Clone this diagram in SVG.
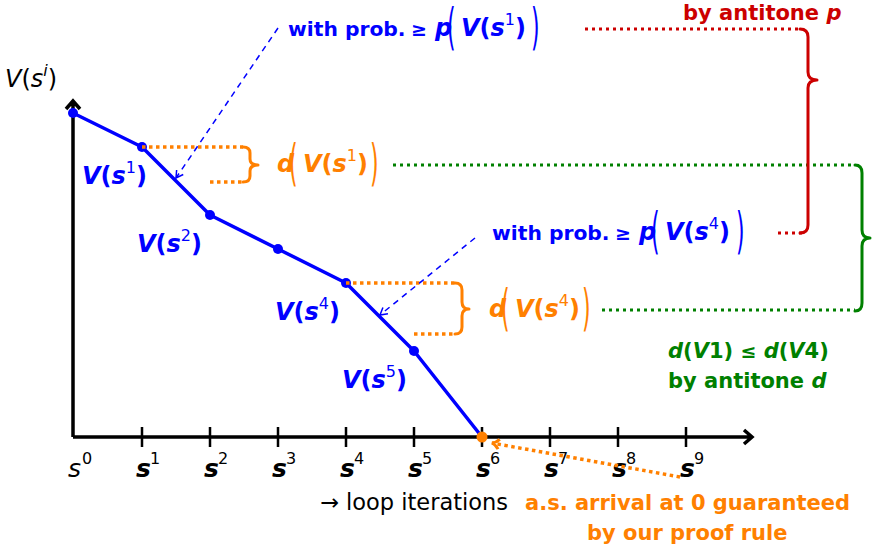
<svg xmlns="http://www.w3.org/2000/svg" width="872" height="549" viewBox="0 0 872 549">
<defs>
<style>
.b{font-family:"DejaVu Sans",sans-serif;font-weight:bold;font-size:21px}
.bw{font-family:"DejaVu Sans",sans-serif;font-weight:bold;font-size:20.3px}
.ge{font-family:"DejaVu Sans",sans-serif;font-weight:bold;font-size:19px}
.bi{font-family:"DejaVu Sans",sans-serif;font-weight:bold;font-style:italic;font-size:24px}
.r{font-family:"DejaVu Sans",sans-serif;font-size:22.5px}
.ri{font-family:"DejaVu Sans",sans-serif;font-style:italic;font-size:24px}
.ts{font-family:"DejaVu Sans",sans-serif;font-weight:bold;font-style:italic;font-size:25px}
.tsr{font-family:"DejaVu Sans",sans-serif;font-style:italic;font-size:25px}
.sup{font-size:16px;font-style:normal;font-weight:normal}
.up{font-style:normal}
.it{font-style:italic}
.bp{font-family:"DejaVu Sans",sans-serif;font-size:22px;font-weight:normal;font-style:normal}
.blue{fill:#0000ff}.orange{fill:#ff8000}.green{fill:#008000}.red{fill:#cc0000}.black{fill:#000}
.axis{stroke:#000;stroke-width:3.5;fill:none}
.tick{stroke:#000;stroke-width:2.5}
.od{stroke:#ff8000;stroke-width:3.5;stroke-dasharray:3.5 3.5;fill:none}
.gd{stroke:#008000;stroke-width:3;stroke-dasharray:3 4;fill:none}
.rd{stroke:#cc0000;stroke-width:3;stroke-dasharray:3 4;fill:none}
.bd{stroke:#0000ff;stroke-width:1.5;stroke-dasharray:6 5;fill:none}
.brace{fill:none;stroke-width:3;stroke-linejoin:round;stroke-linecap:round}
</style>
<marker id="ab" viewBox="0 0 10 10" refX="9" refY="5" markerWidth="10" markerHeight="10" markerUnits="userSpaceOnUse" orient="auto">
<path d="M2,1 L9,5 L2,9" fill="none" stroke="#0000ff" stroke-width="1.5"/>
</marker>
<marker id="ao" viewBox="0 0 12 12" refX="10" refY="6" markerWidth="12" markerHeight="12" markerUnits="userSpaceOnUse" orient="auto">
<path d="M3,1 Q6,5 10,6 Q6,7 3,11" fill="none" stroke="#ff8000" stroke-width="3"/>
</marker>
</defs>

<g id="axes">
<path class="axis" d="M73,437 L73,101 M66,109 L73,101 L80,109"/>
<path class="axis" d="M73,437 L752,437 M744,430 L752,437 L744,444"/>
<path class="tick" d="M142,427V447M210,427V447M278,427V447M346,427V447M414,427V447M482,427V447M550,427V447M618,427V447M686,427V447"/>
<text x="5" y="87" class="ri black">V<tspan class="up">(</tspan>s<tspan dy="-11" font-size="16">i</tspan><tspan dy="11" class="up">)</tspan></text>
</g>

<g id="ticklabels" class="black">
<text x="68" y="477" class="tsr">s<tspan class="sup" dy="-13" x="82">0</tspan></text>
<text x="136" y="477" class="ts">s<tspan class="sup" dy="-13" x="150">1</tspan></text>
<text x="204" y="477" class="ts">s<tspan class="sup" dy="-13" x="218">2</tspan></text>
<text x="272" y="477" class="ts">s<tspan class="sup" dy="-13" x="286">3</tspan></text>
<text x="340" y="477" class="ts">s<tspan class="sup" dy="-13" x="354">4</tspan></text>
<text x="408" y="477" class="ts">s<tspan class="sup" dy="-13" x="422">5</tspan></text>
<text x="476" y="477" class="ts">s<tspan class="sup" dy="-13" x="490">6</tspan></text>
<text x="544" y="477" class="ts">s<tspan class="sup" dy="-13" x="558">7</tspan></text>
<text x="612" y="477" class="ts">s<tspan class="sup" dy="-13" x="626">8</tspan></text>
<text x="680" y="477" class="ts">s<tspan class="sup" dy="-13" x="694">9</tspan></text>
<text x="320" y="510" class="r">→ loop iterations</text>
</g>

<g id="curve">
<polyline points="73,113 142,147 210,215 278,249 346,283 414,351 482,437" fill="none" stroke="#0000ff" stroke-width="3.5" stroke-linejoin="round"/>
<g fill="#0000ff">
<circle cx="73" cy="113" r="5"/><circle cx="142" cy="147" r="5"/><circle cx="210" cy="215" r="5"/>
<circle cx="278" cy="249" r="5"/><circle cx="346" cy="283" r="5"/><circle cx="414" cy="351" r="5"/>
</g>
<circle cx="482" cy="437" r="5.5" fill="#ff8000"/>
</g>

<g id="vlabels" class="blue">
<text x="82" y="184" class="bi">V<tspan class="up">(</tspan>s<tspan class="sup" dy="-11">1</tspan><tspan dy="11" class="up">)</tspan></text>
<text x="137" y="252" class="bi">V<tspan class="up">(</tspan>s<tspan class="sup" dy="-11">2</tspan><tspan dy="11" class="up">)</tspan></text>
<text x="275" y="320" class="bi">V<tspan class="up">(</tspan>s<tspan class="sup" dy="-11">4</tspan><tspan dy="11" class="up">)</tspan></text>
<text x="342" y="388" class="bi">V<tspan class="up">(</tspan>s<tspan class="sup" dy="-11">5</tspan><tspan dy="11" class="up">)</tspan></text>
</g>

<g id="connectors">
<path class="od" d="M142,147 H243 M210,182 H243"/>
<path class="od" d="M346,283 H455 M414,334 H455"/>
<path class="bd" d="M278,28 L176,178" marker-end="url(#ab)"/>
<path class="bd" d="M475,238 L380,315" marker-end="url(#ab)"/>
<path class="rd" d="M585,29 H800 M778,233 H803"/>
<path class="gd" d="M393,165 H855 M602,310 H855"/>
<path class="od" d="M680,477 L492,443" marker-end="url(#ao)"/>
<path class="brace" stroke="#ff8000" d="M243,147 Q250,147 250,153 L250,159 Q250,165 258,165 Q250,165 250,171 L250,176 Q250,182 243,182"/>
<path class="brace" stroke="#ff8000" d="M455,283 Q462,283 462,290 L462,302 Q462,309 469,309 Q462,309 462,316 L462,327 Q462,334 455,334"/>
<path class="brace" stroke="#cc0000" d="M800,29 Q808,29 808,37 L808,72 Q808,80 817,80 Q808,80 808,88 L808,225 Q808,233 800,233"/>
<path class="brace" stroke="#008000" d="M855,165 Q862,165 862,173 L862,230 Q862,238 870,238 Q862,238 862,246 L862,303 Q862,311 855,311"/>
</g>

<g id="prob1" class="blue">
<text x="288" y="36" class="bw">with prob.</text>
<text x="411" y="36" class="ge">≥</text>
<text x="435" y="36" class="bi">p</text>
<text class="bp" transform="translate(447,44) scale(1,2.25)">(</text>
<text x="461" y="36" class="bi">V<tspan class="up">(</tspan>s<tspan class="sup" dy="-11">1</tspan><tspan dy="11" class="up">)</tspan></text>
<text class="bp" transform="translate(531,44) scale(1,2.25)">)</text>
</g>

<g id="prob4" class="blue">
<text x="492" y="240" class="bw">with prob.</text>
<text x="615" y="240" class="ge">≥</text>
<text x="639" y="240" class="bi">p</text>
<text class="bp" transform="translate(651,248) scale(1,2.25)">(</text>
<text x="665" y="240" class="bi">V<tspan class="up">(</tspan>s<tspan class="sup" dy="-11">4</tspan><tspan dy="11" class="up">)</tspan></text>
<text class="bp" transform="translate(736,248) scale(1,2.25)">)</text>
</g>

<g id="d1" class="orange">
<text x="277" y="172" class="bi">d</text>
<text class="bp" transform="translate(289,180) scale(1,2.25)">(</text>
<text x="303" y="172" class="bi">V<tspan class="up">(</tspan>s<tspan class="sup" dy="-11">1</tspan><tspan dy="11" class="up">)</tspan></text>
<text class="bp" transform="translate(370,180) scale(1,2.25)">)</text>
</g>

<g id="d4" class="orange">
<text x="489" y="317" class="bi">d</text>
<text class="bp" transform="translate(501,325) scale(1,2.25)">(</text>
<text x="515" y="317" class="bi">V<tspan class="up">(</tspan>s<tspan class="sup" dy="-11">4</tspan><tspan dy="11" class="up">)</tspan></text>
<text class="bp" transform="translate(582,325) scale(1,2.25)">)</text>
</g>

<g id="antitone-p" class="red">
<text x="683" y="20" class="b">by antitone <tspan class="it">p</tspan></text>
</g>

<g id="antitone-d" class="green">
<text x="668" y="358" class="b" font-size="23"><tspan class="it">d</tspan>(<tspan class="it">V</tspan>1) <tspan font-size="19">≤</tspan> <tspan class="it">d</tspan>(<tspan class="it">V</tspan>4)</text>
<text x="668" y="388" class="b">by antitone <tspan class="it">d</tspan></text>
</g>

<g id="arrival" class="orange">
<text x="525" y="510" class="b">a.s. arrival at 0 guaranteed</text>
<text x="587" y="540" class="b">by our proof rule</text>
</g>
</svg>
